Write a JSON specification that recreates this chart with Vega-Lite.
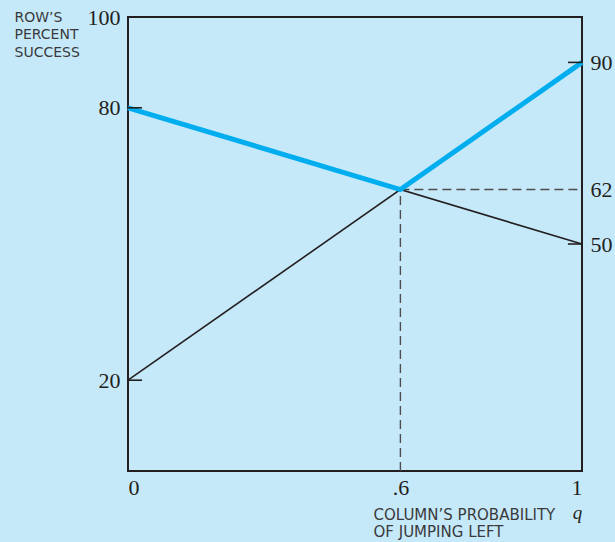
{
  "$schema": "https://vega.github.io/schema/vega-lite/v6.json",
  "width": 454,
  "height": 454,
  "autosize": {"type": "none"},
  "padding": {"left": 128, "top": 17, "right": 33, "bottom": 71},
  "background": "#c6e9fa",
  "config": {
    "view": {"stroke": "#231f20", "strokeWidth": 2},
    "axis": {
      "grid": false,
      "ticks": false,
      "domain": false,
      "labelFont": "Liberation Serif",
      "labelFontSize": 22,
      "labelColor": "#231f20",
      "titleFont": "DejaVu Sans",
      "titleFontSize": 14,
      "titleFontWeight": "normal",
      "titleColor": "#3a3a3c"
    }
  },
  "datasets": {
    "lines": [
      {"q": 0, "v": 20, "series": "a"},
      {"q": 1, "v": 90, "series": "a"},
      {"q": 0, "v": 80, "series": "b"},
      {"q": 1, "v": 50, "series": "b"}
    ],
    "blue": [
      {"q": 0, "v": 80},
      {"q": 0.6, "v": 62},
      {"q": 1, "v": 90}
    ],
    "dashes": [
      {"q": 0.6, "q2": 0.6, "v": 0, "v2": 62},
      {"q": 0.6, "q2": 1, "v": 62, "v2": 62}
    ],
    "ticks": [
      {"q": 0, "q2": 0.031, "v": 80},
      {"q": 0, "q2": 0.031, "v": 20},
      {"q": 0.969, "q2": 1, "v": 90},
      {"q": 0.969, "q2": 1, "v": 50}
    ],
    "qlabel": [{"q": 0.99, "v": -9.3, "t": "q"}]
  },
  "layer": [
    {
      "data": {"name": "lines"},
      "mark": {"type": "line", "color": "#231f20", "strokeWidth": 1.6},
      "encoding": {
        "x": {
          "field": "q", "type": "quantitative",
          "scale": {"domain": [0, 1], "nice": false},
          "axis": {
            "orient": "bottom",
            "values": [0, 0.6, 1],
            "labelExpr": "datum.value == 0 ? '0' : datum.value == 1 ? '1' : '.6'",
            "labelPadding": 6,
            "title": ["COLUMN’S PROBABILITY", "OF JUMPING LEFT"],
            "titleFontSize": 15,
            "titleAlign": "left",
            "titleBaseline": "top",
            "titleAnchor": "start",
            "titleX": 245,
            "titleY": 36,
            "titleLineHeight": 17.5
          }
        },
        "y": {
          "field": "v", "type": "quantitative",
          "scale": {"domain": [0, 100], "nice": false},
          "axis": {
            "orient": "left",
            "values": [100, 80, 20],
            "labelPadding": 8,
            "title": ["ROW’S", "PERCENT", "SUCCESS"],
            "titleAngle": 0,
            "titleAlign": "left",
            "titleBaseline": "top",
            "titleX": -114,
            "titleY": -7,
            "titleLineHeight": 17.5
          }
        },
        "detail": {"field": "series"}
      }
    },
    {
      "data": {"name": "dashes"},
      "mark": {"type": "rule", "color": "#4d4d4f", "strokeWidth": 1.4, "strokeDash": [9, 5]},
      "encoding": {
        "x": {"field": "q", "type": "quantitative"},
        "x2": {"field": "q2"},
        "y": {
          "field": "v", "type": "quantitative",
          "axis": {
            "orient": "right",
            "values": [90, 62, 50],
            "labelPadding": 8,
            "title": null
          }
        },
        "y2": {"field": "v2"}
      }
    },
    {
      "data": {"name": "blue"},
      "mark": {"type": "line", "color": "#00aeef", "strokeWidth": 5},
      "encoding": {
        "x": {"field": "q", "type": "quantitative"},
        "y": {"field": "v", "type": "quantitative", "axis": null}
      }
    },
    {
      "data": {"name": "ticks"},
      "mark": {"type": "rule", "color": "#231f20", "strokeWidth": 1.6},
      "encoding": {
        "x": {"field": "q", "type": "quantitative"},
        "x2": {"field": "q2"},
        "y": {"field": "v", "type": "quantitative", "axis": null}
      }
    },
    {
      "data": {"name": "qlabel"},
      "mark": {"type": "text", "font": "Liberation Serif", "fontStyle": "italic", "fontSize": 19, "color": "#231f20", "align": "center", "baseline": "middle"},
      "encoding": {
        "x": {"field": "q", "type": "quantitative"},
        "y": {"field": "v", "type": "quantitative", "axis": null},
        "text": {"field": "t"}
      }
    }
  ],
  "resolve": {"axis": {"y": "independent"}}
}
